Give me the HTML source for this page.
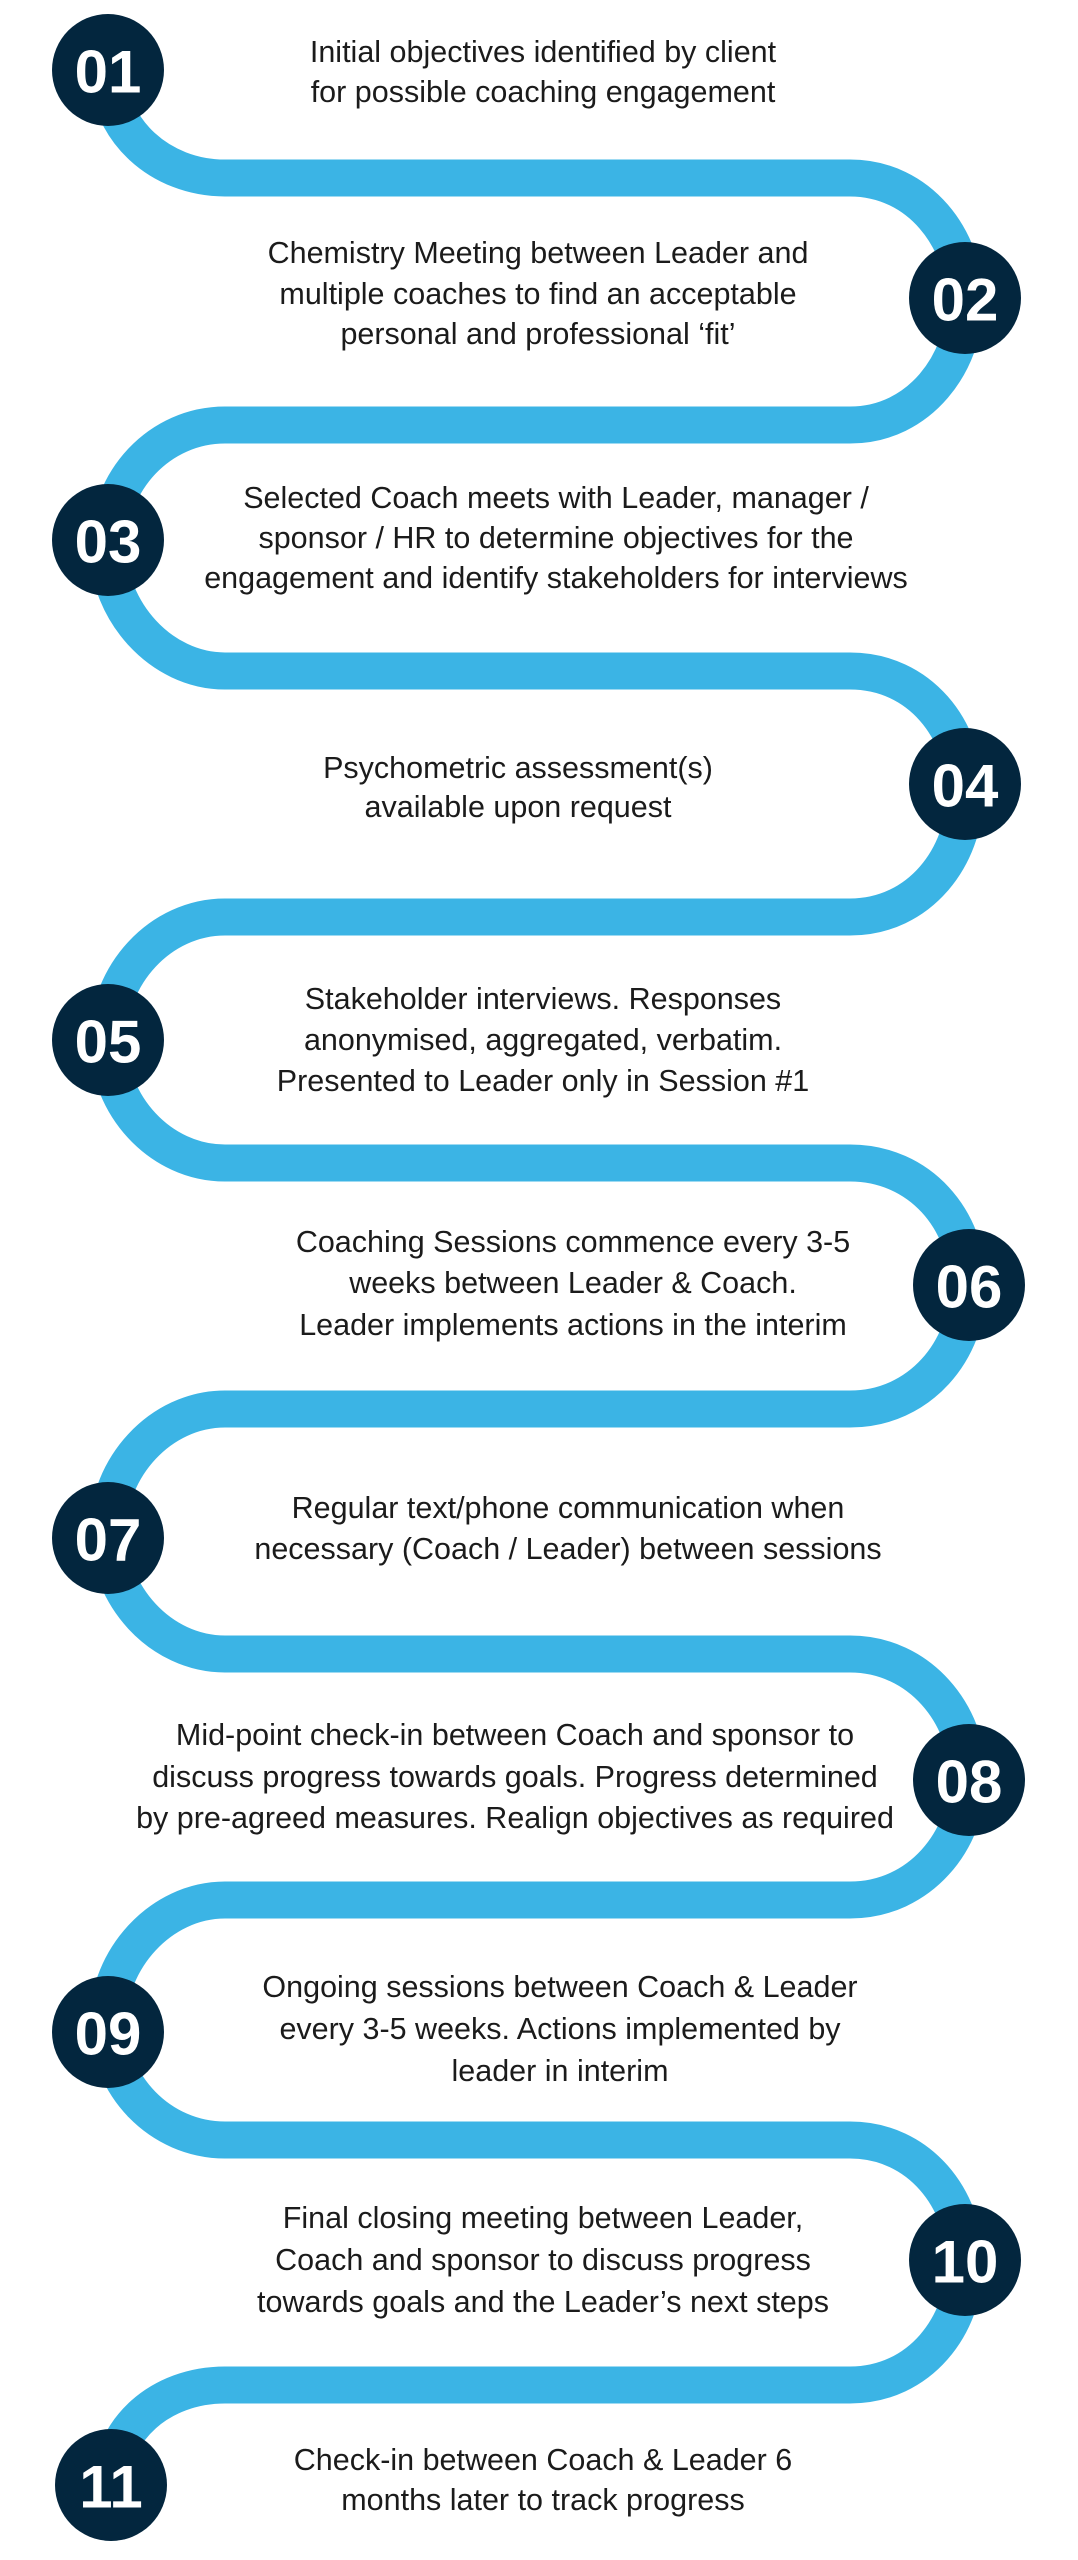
<!DOCTYPE html>
<html><head><meta charset="utf-8"><style>
html,body{margin:0;padding:0;background:#fff;}
svg{display:block;}
.t{font-family:"Liberation Sans",sans-serif;font-size:30.5px;fill:#1b1b1b;text-anchor:middle;dominant-baseline:central;}
.n{font-family:"Liberation Sans",sans-serif;font-size:60px;font-weight:bold;fill:#fff;text-anchor:middle;dominant-baseline:central;}
</style></head><body>
<svg width="1078" height="2560" viewBox="0 0 1078 2560" xmlns="http://www.w3.org/2000/svg">
<path fill="none" stroke="#3bb4e5" stroke-width="37" d="
M108 70 C108 130 160 178 225 178 L850 178
C920 178 965 240 965 301 C965 362 920 425 850 425 L225 425
C160 425 108 480 108 548 C108 610 160 671 225 671 L850 671
C920 671 965 730 965 794 C965 856 920 917 850 917 L225 917
C160 917 108 975 108 1040 C108 1105 160 1163 225 1163 L850 1163
C920 1163 968 1220 968 1286 C968 1350 920 1409 850 1409 L225 1409
C160 1409 108 1468 108 1531 C108 1595 160 1654 225 1654 L850 1654
C920 1654 968 1715 968 1777 C968 1840 920 1900 850 1900 L225 1900
C160 1900 108 1960 108 2022 C108 2085 160 2140 225 2140 L850 2140
C920 2140 965 2200 965 2262 C965 2325 920 2385 850 2385 L225 2385
C160 2385 111 2430 111 2485"/>
<g fill="#03263e">
<circle cx="108" cy="70" r="56"/>
<circle cx="965" cy="298" r="56"/>
<circle cx="108" cy="540" r="56"/>
<circle cx="965" cy="784" r="56"/>
<circle cx="108" cy="1040" r="56"/>
<circle cx="969" cy="1285" r="56"/>
<circle cx="108" cy="1538" r="56"/>
<circle cx="969" cy="1780" r="56"/>
<circle cx="108" cy="2032" r="56"/>
<circle cx="965" cy="2260" r="56"/>
<circle cx="111" cy="2485" r="56"/>
</g>
<text class="n" x="108" y="72">01</text>
<text class="n" x="965" y="300">02</text>
<text class="n" x="108" y="542">03</text>
<text class="n" x="965" y="786">04</text>
<text class="n" x="108" y="1042">05</text>
<text class="n" x="969" y="1287">06</text>
<text class="n" x="108" y="1540">07</text>
<text class="n" x="969" y="1782">08</text>
<text class="n" x="108" y="2034">09</text>
<text class="n" x="965" y="2262">10</text>
<text class="n" x="111" y="2487">11</text>

<text class="t" x="543" y="52">Initial objectives identified by client</text>
<text class="t" x="543" y="92">for possible coaching engagement</text>

<text class="t" x="538" y="253">Chemistry Meeting between Leader and</text>
<text class="t" x="538" y="294">multiple coaches to find an acceptable</text>
<text class="t" x="538" y="334">personal and professional ‘fit’</text>

<text class="t" x="556" y="498">Selected Coach meets with Leader, manager /</text>
<text class="t" x="556" y="538">sponsor / HR to determine objectives for the</text>
<text class="t" x="556" y="578">engagement and identify stakeholders for interviews</text>

<text class="t" x="518" y="768">Psychometric assessment(s)</text>
<text class="t" x="518" y="807">available upon request</text>

<text class="t" x="543" y="999">Stakeholder interviews. Responses</text>
<text class="t" x="543" y="1040">anonymised, aggregated, verbatim.</text>
<text class="t" x="543" y="1081">Presented to Leader only in Session #1</text>

<text class="t" x="573" y="1242">Coaching Sessions commence every 3-5</text>
<text class="t" x="573" y="1283">weeks between Leader &amp; Coach.</text>
<text class="t" x="573" y="1325">Leader implements actions in the interim</text>

<text class="t" x="568" y="1508">Regular text/phone communication when</text>
<text class="t" x="568" y="1549">necessary (Coach / Leader) between sessions</text>

<text class="t" x="515" y="1735">Mid-point check-in between Coach and sponsor to</text>
<text class="t" x="515" y="1777">discuss progress towards goals. Progress determined</text>
<text class="t" x="515" y="1818">by pre-agreed measures. Realign objectives as required</text>

<text class="t" x="560" y="1987">Ongoing sessions between Coach &amp; Leader</text>
<text class="t" x="560" y="2029">every 3-5 weeks. Actions implemented by</text>
<text class="t" x="560" y="2071">leader in interim</text>

<text class="t" x="543" y="2218">Final closing meeting between Leader,</text>
<text class="t" x="543" y="2260">Coach and sponsor to discuss progress</text>
<text class="t" x="543" y="2302">towards goals and the Leader’s next steps</text>

<text class="t" x="543" y="2460">Check-in between Coach &amp; Leader 6</text>
<text class="t" x="543" y="2500">months later to track progress</text>
</svg>
</body></html>
